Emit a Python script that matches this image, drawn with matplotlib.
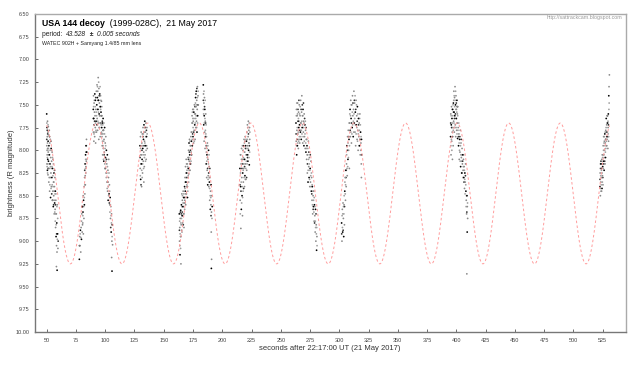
import matplotlib
matplotlib.use("Agg")
import matplotlib.pyplot as plt
import numpy as np

plt.rcParams['font.family'] = ['Liberation Sans', 'DejaVu Sans']

# ---------------- data ----------------
seg1 = [(50.0,7.60),(50.1,7.95),(50.2,8.15),(50.3,7.75),(50.4,8.05),(50.5,7.85),(50.6,8.22),(50.7,7.68),
        (50.8,7.98),(50.9,8.10),(51.0,7.80),(51.1,8.27),(51.2,7.90),(51.3,8.02),(51.4,7.74),(51.5,8.12),
        (51.6,7.83),(51.8,8.35),(51.9,7.95),(52.0,8.20),(52.2,7.78),(52.3,8.05),(52.5,8.45),(52.6,7.92),
        (52.8,8.15),(53.0,8.30),(53.1,7.88),(53.3,8.52),(53.4,8.08),(53.6,8.25),(53.8,7.98),(54.0,8.40),
        (54.2,8.12),(54.4,8.30),(54.6,8.02),(54.8,8.55),(55.0,8.20),(55.2,8.45),(55.4,8.10),(55.6,8.62),
        (55.8,8.35),(56.0,8.50),(56.2,8.25),(56.4,8.70),(56.6,8.40),(56.8,8.58),(57.0,8.30),(57.2,8.65),
        (57.4,8.45),(57.6,8.85),(57.8,8.55),(58.0,8.95),(58.2,8.70),(58.4,9.05),(58.6,8.80),(58.8,9.12),
        (59.0,8.60),(59.3,8.92),(59.6,9.08),(58.3,9.28),(58.9,9.32)]
seg1x = [(50.05,7.88),(50.15,7.70),(50.25,8.00),(50.35,8.18),(50.45,7.78),(50.55,8.08),(50.65,7.92),
         (50.75,8.25),(50.85,7.82),(50.95,8.00),(51.05,8.15),(51.15,7.72),(51.25,8.20),(51.45,7.98),
         (51.7,8.05),(52.1,8.30),(52.4,7.85),(52.7,8.38),(52.9,8.00),(53.2,8.18),(53.5,7.90),(53.7,8.42),
         (53.9,8.20),(54.1,8.00),(54.3,8.48),(54.5,8.18),(54.7,8.38),(54.9,8.08),(55.1,8.55),(55.3,8.28),
         (55.5,8.40),(55.7,8.15),(55.9,8.60),(56.1,8.35),(56.3,8.45),(56.5,8.55),(56.7,8.22),(56.9,8.68),
         (57.1,8.48),(57.3,8.78),(57.5,8.60),(57.7,8.70),(57.9,8.48),(58.1,8.82),(58.5,8.92),(58.7,8.62),
         (59.1,8.98),(59.4,8.75),(59.8,9.00)]
seg2a = [(77.9,9.20),(78.2,8.95),(78.5,9.05),(78.8,8.88),(79.1,9.12),(79.4,8.85),(79.7,8.98),(80.0,8.70),
         (80.3,8.90),(80.5,8.62),(80.6,8.82),(80.8,8.80),(81.0,8.68),(81.2,8.50),(81.3,8.92),(81.5,8.55),
         (81.8,8.75),(82.0,8.40),(82.2,8.60),(82.4,8.30),(82.6,8.48),(82.8,8.15),(82.9,8.28),(83.0,8.38),
         (83.2,8.05),(83.4,8.25),(83.5,8.18),(83.6,7.95),(83.8,8.12),(84.0,7.88),(84.2,8.02)]
seg2ax = [(78.0,9.05),(78.6,8.92),(79.2,8.96),(79.8,8.78),(80.2,8.62),(80.9,8.72),(81.6,8.62),(82.1,8.52),
          (82.5,8.22),(82.7,8.38),(83.1,8.20),(83.3,8.10),(83.7,8.02),(83.9,7.95),(84.1,8.10)]
seg2b = [(89.8,7.55),(89.9,7.80),(90.0,7.40),(90.2,7.65),(90.3,7.90),(90.5,7.48),(90.6,7.72),(90.8,7.58),
         (91.0,7.85),(91.1,7.38),(91.3,7.62),(91.5,7.75),(91.6,7.45),(91.8,7.92),(92.0,7.55),(92.2,7.68),
         (92.4,7.35),(92.5,7.80),(92.8,7.50),(93.0,7.28),(93.1,7.65),(93.3,7.42),(93.5,7.78),(93.6,7.35),
         (93.8,7.55),(94.0,7.20),(94.1,7.70),(94.3,7.45),(94.5,7.88),(94.6,7.32),(94.8,7.60),(95.0,7.48),
         (95.2,7.75),(95.3,7.38),(95.5,7.62),(95.7,7.85),(95.9,7.52),(96.0,7.40),(96.2,7.70),(96.4,7.58),
         (96.6,7.82),(96.8,7.46),(97.0,7.75),(97.2,7.62),(97.4,7.95),(97.6,7.70),(97.8,8.05),(98.0,7.82),
         (98.2,7.65),(98.4,7.98),(98.6,7.78),(98.8,8.12),(99.0,7.88),(99.3,8.02),(99.5,7.75),(99.7,8.20),
         (100.0,7.92),(100.2,8.08),(100.5,7.85),(100.7,8.25),(101.0,8.00),(101.3,8.15),(101.5,8.35),
         (101.8,8.05),(102.0,8.45),(102.3,8.22),(102.5,8.55),(102.8,8.30),(103.0,8.10),(103.3,8.48),
         (103.6,8.38),(103.9,8.60),(104.2,8.52),(104.5,8.75),(104.8,8.62),(105.1,8.90),(105.4,8.70),
         (105.7,9.00),(106.0,8.82),(106.3,9.04),(105.5,9.18),(105.8,9.33)]
seg2bx = [(89.85,7.65),(90.1,7.52),(90.4,7.82),(90.7,7.45),(90.9,7.68),(91.2,7.80),(91.4,7.52),(91.7,7.70),
          (91.9,7.42),(92.1,7.78),(92.3,7.58),(92.6,7.62),(92.9,7.72),(93.2,7.55),(93.4,7.30),(93.7,7.68),
          (93.9,7.45),(94.2,7.58),(94.4,7.25),(94.7,7.75),(94.9,7.40),(95.1,7.62),(95.4,7.52),(95.6,7.30),
          (95.8,7.70),(96.1,7.55),(96.3,7.45),(96.5,7.72),(96.7,7.62),(96.9,7.80),(97.1,7.52),(97.3,7.85),
          (97.5,7.68),(97.7,7.90),(97.9,7.72),(98.1,7.95),(98.3,7.78),(98.5,8.10),(98.7,7.90),(98.9,7.70),
          (99.1,8.05),(99.4,7.82),(99.6,8.15),(99.9,7.98),(100.1,8.20),(100.4,7.95),(100.6,8.12),(100.9,8.30),
          (101.1,8.10),(101.4,8.25),(101.7,8.42),(101.9,8.18),(102.2,8.35),(102.6,8.40),(102.9,8.50),
          (103.2,8.25),(103.5,8.58),(103.8,8.45),(104.0,8.68),(104.4,8.60),(104.7,8.85),(105.0,8.72),
          (105.3,8.80),(105.9,8.95)]
seg3 = [(129.7,7.95),(129.9,8.20),(130.1,7.85),(130.3,8.32),(130.5,8.05),(130.7,7.80),(130.9,8.15),
        (131.1,8.40),(131.3,7.92),(131.5,8.10),(131.7,7.82),(131.9,8.25),(132.1,7.98),(132.3,7.75),
        (132.5,8.12),(132.7,7.88),(132.9,8.02),(133.0,8.35),(133.1,7.72),(133.4,8.18),(133.6,7.90),
        (133.8,7.68),(134.0,8.05),(134.3,7.80),(134.5,7.95),(134.8,7.70),(135.0,8.10),(135.3,7.85),
        (135.6,7.75),(135.9,7.98)]
seg3x = [(129.8,8.08),(130.0,8.28),(130.2,7.98),(130.4,8.15),(130.6,8.38),(130.8,7.95),(131.0,8.05),
         (131.2,8.22),(131.4,8.00),(131.6,8.30),(131.8,7.95),(132.0,8.15),(132.2,7.85),(132.4,8.05),
         (132.6,7.82),(132.8,8.20),(133.2,7.95),(133.5,8.08),(133.7,7.80),(133.9,7.92),(134.1,7.75),
         (134.4,8.12),(134.6,7.85),(134.9,8.00),(135.2,7.78),(135.4,7.95),(135.8,7.82)]
seg4a = [(163.3,8.70),(163.5,9.00),(163.7,8.85),(163.9,9.15),(164.1,8.75),(164.3,8.95),(164.5,8.66),
         (164.7,9.25),(164.9,8.82),(165.1,8.60),(165.3,8.88),(165.5,8.48),(165.7,8.72),(165.9,8.55),
         (166.1,8.80),(166.3,8.62),(166.6,8.45),(166.8,8.70),(167.0,8.52),(167.3,8.85),(167.5,8.58),
         (167.8,8.40),(168.0,8.55),(168.2,8.30),(168.4,8.45),(168.6,8.18),(168.8,8.60),(169.0,8.35),
         (169.2,8.10),(169.4,8.48),(169.6,8.25),(169.8,8.40),(170.0,8.15),(170.3,8.52),(170.5,8.30),
         (170.8,8.08),(171.0,8.20),(171.2,8.00),(171.4,8.26),(171.6,7.92),(171.8,8.12),(172.0,7.88),
         (172.2,8.05),(172.5,8.22),(172.7,7.95),(172.9,8.15),(173.2,7.85),(173.4,8.02),(173.7,7.90),
         (174.0,7.80),(174.2,7.62),(174.4,7.95),(174.6,7.70),(174.8,7.55),(175.0,7.85),(175.2,7.68),
         (175.5,7.92),(175.7,7.58),(176.0,7.78),(176.2,7.50),(176.5,7.72),(176.8,7.88),(177.0,7.60),
         (177.2,7.42),(177.4,7.75),(177.6,7.52),(177.8,7.35),(178.0,7.68),(178.2,7.45),(178.4,7.80),
         (178.6,7.55),(178.8,7.30),(179.0,7.62),(179.3,7.40),(179.5,7.50)]
seg4ax = [(163.4,8.88),(163.6,8.78),(163.8,9.05),(164.0,8.92),(164.2,8.68),(164.4,9.08),(164.6,8.80),
          (164.8,8.95),(165.0,8.70),(165.2,8.75),(165.4,8.62),(165.6,8.90),(165.8,8.68),(166.0,8.50),
          (166.2,8.72),(166.5,8.58),(166.7,8.82),(166.9,8.62),(167.2,8.48),(167.4,8.70),(167.7,8.52),
          (167.9,8.65),(168.1,8.42),(168.3,8.58),(168.5,8.35),(168.7,8.48),(168.9,8.25),(169.1,8.52),
          (169.3,8.30),(169.5,8.15),(169.7,8.38),(169.9,8.22),(170.2,8.40),(170.4,8.18),(170.6,8.45),
          (170.9,8.28),(171.1,8.10),(171.3,8.35),(171.5,8.08),(171.7,8.22),(171.9,8.02),(172.1,8.15),
          (172.4,7.90),(172.6,8.10),(172.8,8.00),(173.0,7.95),(173.3,8.12),(173.5,7.80),(173.8,8.05),
          (174.1,7.70),(174.3,7.88),(174.5,7.58),(174.7,7.82),(174.9,7.65),(175.1,7.75),(175.4,7.55),
          (175.6,7.80),(175.9,7.65),(176.1,7.90),(176.4,7.60),(176.7,7.52),(176.9,7.70),(177.1,7.48),
          (177.3,7.65),(177.5,7.38),(177.7,7.62),(177.9,7.50),(178.1,7.75),(178.3,7.32),(178.5,7.62),
          (178.7,7.42),(178.9,7.70),(179.2,7.50),(179.4,7.35)]
seg4b = [(183.8,7.28),(183.9,7.55),(184.0,7.38),(184.2,7.72),(184.3,7.48),(184.5,7.90),(184.6,7.62),
         (184.8,7.42),(185.0,7.80),(185.1,7.55),(185.3,7.98),(185.5,7.68),(185.7,7.85),(185.9,7.60),
         (186.1,7.95),(186.3,8.15),(186.5,7.85),(186.7,8.30),(186.9,8.05),(187.1,8.22),(187.3,7.92),
         (187.6,8.38),(187.8,8.10),(188.0,8.28),(188.3,8.00),(188.5,8.40),(188.8,8.18),(189.0,8.35),
         (189.3,8.55),(189.5,8.30),(189.8,8.65),(190.0,8.45),(190.3,8.60),(190.5,8.38),(190.8,8.68),
         (191.0,8.50),(191.4,8.62),(190.6,8.90),(190.9,9.20),(190.7,9.30)]
seg4bx = [(183.85,7.45),(184.1,7.60),(184.4,7.35),(184.7,7.70),(184.9,7.52),(185.2,7.65),(185.4,7.45),
          (185.6,7.78),(185.8,7.70),(186.0,7.82),(186.2,7.72),(186.4,8.02),(186.6,7.95),(186.8,8.12),
          (187.0,7.98),(187.2,8.08),(187.5,8.20),(187.7,7.95),(187.9,8.32),(188.2,8.15),(188.4,8.25),
          (188.7,8.05),(188.9,8.30),(189.2,8.42),(189.4,8.20),(189.7,8.50),(189.9,8.38),(190.2,8.52),
          (190.4,8.72),(191.2,8.75)]
seg5 = [(215.1,8.20),(215.3,8.55),(215.5,8.05),(215.7,8.40),(215.9,8.86),(216.1,8.15),(216.3,8.65),
        (216.5,7.98),(216.7,8.30),(216.9,8.50),(217.1,8.10),(217.3,8.72),(217.5,8.25),(217.7,8.00),
        (218.0,8.35),(218.2,7.95),(218.4,8.20),(218.6,7.88),(218.8,8.10),(219.0,8.40),(219.2,8.02),
        (219.4,8.28),(219.6,7.85),(219.8,8.15),(220.0,7.95),(220.2,8.32),(220.4,8.05),(220.7,7.90),
        (220.9,8.22),(221.1,7.80),(221.3,8.05),(221.5,7.72),(221.7,7.95),(221.9,8.12),(222.1,7.85),
        (222.3,7.68),(222.5,8.00),(222.7,7.78),(222.9,7.92),(223.1,8.16),(223.3,7.75),(223.5,7.88)]
seg5x = [(215.2,8.38),(215.4,8.70),(215.6,8.25),(215.8,8.05),(216.0,8.45),(216.2,8.35),(216.4,8.10),
         (216.6,8.58),(216.8,8.20),(217.0,8.40),(217.2,7.95),(217.4,8.52),(217.6,8.15),(217.8,8.45),
         (217.9,8.22),(218.1,8.08),(218.3,8.42),(218.5,8.15),(218.7,8.30),(218.9,7.92),(219.1,8.18),
         (219.3,7.90),(219.5,8.10),(219.7,8.32),(219.9,7.98),(220.1,8.20),(220.3,7.88),(220.6,8.12),
         (220.8,8.30),(221.0,7.98),(221.2,8.15),(221.4,7.88),(221.6,8.08),(221.8,7.75),(222.0,7.98),
         (222.2,8.05),(222.4,7.82),(222.6,7.92),(222.8,8.08),(223.0,7.70),(223.2,7.95),(223.4,8.02),
         (223.6,7.80)]
seg6 = [(263.0,7.70),(263.2,7.90),(263.4,7.55),(263.6,8.05),(263.8,7.78),(264.0,7.62),(264.2,7.95),
        (264.4,7.48),(264.6,7.82),(264.8,7.68),(265.0,7.98),(265.2,7.58),(265.4,7.75),(265.6,7.88),
        (265.8,7.50),(266.0,7.72),(266.2,7.92),(266.5,7.62),(266.8,7.80),(267.0,7.45),(267.3,7.70),
        (267.5,7.88),(267.8,7.58),(268.0,7.40),(268.3,7.75),(268.5,7.62),(268.8,7.92),(269.0,7.55),
        (269.3,7.80),(269.5,7.68),(269.8,7.95),(270.0,7.60),(270.3,7.85),(270.6,7.72),(270.9,7.98),
        (271.2,7.78),(271.5,8.02),(271.8,7.88),(272.1,8.10),(272.4,7.95),(272.7,8.25),(273.0,8.05),
        (273.3,8.35),(273.6,7.90),(273.9,8.18),(274.2,8.30),(274.5,8.08),(274.8,8.40),(275.1,8.20),
        (275.4,8.35),(275.8,8.12),(276.1,8.45),(276.4,8.30),(276.7,8.55),(277.0,8.40),(277.3,8.70),
        (277.6,8.50),(277.9,8.62),(278.2,8.45),(278.5,8.78),(278.8,8.60),(279.1,8.72),(279.4,8.90),
        (279.7,8.65),(280.0,9.00),(280.3,8.82),(280.6,9.10),(280.9,8.95)]
seg6x = [(263.1,7.82),(263.3,7.62),(263.5,7.95),(263.7,7.48),(263.9,7.88),(264.1,7.75),(264.3,7.60),
         (264.5,7.92),(264.7,7.55),(264.9,7.80),(265.1,7.65),(265.3,7.90),(265.5,7.45),(265.7,7.68),
         (265.9,7.85),(266.1,7.60),(266.3,7.78),(266.6,7.52),(266.9,7.70),(267.1,7.85),(267.4,7.55),
         (267.6,7.78),(267.9,7.68),(268.1,7.82),(268.4,7.50),(268.6,7.72),(268.9,7.62),(269.1,7.85),
         (269.4,7.48),(269.6,7.75),(269.9,7.70),(270.1,7.90),(270.4,7.65),(270.7,7.82),(271.0,7.68),
         (271.3,7.92),(271.6,7.75),(271.9,7.98),(272.2,7.88),(272.5,8.05),(272.8,8.15),(273.1,7.98),
         (273.4,8.22),(273.7,8.10),(274.0,8.02),(274.3,8.15),(274.6,8.32),(274.9,8.22),(275.2,8.05),
         (275.6,8.28),(275.9,8.40),(276.2,8.25),(276.5,8.48),(276.8,8.38),(277.1,8.60),(277.4,8.45),
         (277.7,8.65),(278.0,8.55),(278.3,8.68),(278.6,8.52),(278.9,8.80),(279.2,8.62),(279.5,8.78),
         (279.8,8.85),(280.1,8.70),(280.4,8.92),(280.7,8.85),(281.0,9.05)]
seg7 = [(302.0,8.80),(302.3,9.00),(302.6,8.65),(302.9,8.90),(303.2,8.58),(303.5,8.75),(303.8,8.95),
        (304.1,8.60),(304.4,8.82),(304.7,8.45),(305.0,8.30),(305.3,8.55),(305.6,8.22),(305.9,8.40),
        (306.2,8.15),(306.5,7.95),(306.8,8.28),(307.1,7.85),(307.4,8.10),(307.7,7.78),(308.0,8.00),
        (308.3,7.88),(308.6,8.20),(308.9,7.70),(309.2,7.55),(309.5,7.85),(309.8,7.45),(310.1,7.65),
        (310.4,7.92),(310.7,7.50),(311.0,7.75),(311.3,7.40),(311.6,7.62),(311.9,7.85),(312.2,7.55),
        (312.5,7.35),(312.8,7.70),(313.1,7.48),(313.4,7.80),(313.7,7.58),(314.0,7.95),(314.3,7.45),
        (314.6,7.72),(314.9,7.62),(315.2,7.88),(315.5,7.52),(315.8,7.78),(316.1,8.00),(316.4,7.65),
        (316.7,7.85),(317.0,7.70),(317.3,7.95),(317.6,7.60),(317.9,8.05),(318.2,7.80),(318.5,7.92),
        (318.8,8.15),(319.0,7.88),(318.9,8.30)]
seg7x = [(302.1,8.92),(302.4,8.72),(302.7,8.85),(303.0,8.70),(303.3,8.88),(303.6,8.62),(303.9,8.70),
         (304.2,8.50),(304.5,8.62),(304.8,8.35),(305.1,8.48),(305.4,8.38),(305.7,8.30),(306.0,8.22),
         (306.3,8.05),(306.6,8.20),(306.9,8.00),(307.2,8.18),(307.5,7.92),(307.8,8.08),(308.1,7.85),
         (308.4,7.70),(308.7,7.95),(309.0,7.60),(309.3,7.78),(309.6,7.62),(309.9,7.80),(310.2,7.50),
         (310.5,7.70),(310.8,7.82),(311.1,7.58),(311.4,7.72),(311.7,7.48),(312.0,7.68),(312.3,7.80),
         (312.6,7.60),(312.9,7.45),(313.2,7.65),(313.5,7.40),(313.8,7.72),(314.1,7.55),(314.4,7.82),
         (314.7,7.50),(315.0,7.75),(315.3,7.68),(315.6,7.90),(315.9,7.60),(316.2,7.82),(316.5,7.72),
         (316.8,7.95),(317.1,7.78),(317.4,7.65),(317.7,7.88),(318.0,7.72),(318.3,8.00),(318.6,7.85),
         (319.1,8.05)]
seg8 = [(395.1,7.85),(395.3,7.60),(395.5,8.05),(395.7,7.72),(395.9,7.52),(396.1,7.90),(396.3,7.65),
        (396.5,7.80),(396.7,8.10),(396.9,7.55),(397.1,7.75),(397.3,7.95),(397.5,7.48),(397.7,7.68),
        (397.9,7.35),(398.1,7.58),(398.3,7.80),(398.5,7.42),(398.7,7.62),(398.9,7.30),(399.1,7.72),
        (399.3,7.50),(399.5,7.85),(399.7,7.40),(399.9,7.65),(400.1,7.55),(400.3,7.78),(400.5,7.45),
        (400.7,7.70),(400.9,7.60),(401.1,7.87),(401.3,7.52),(401.6,7.75),(401.9,7.95),(402.2,7.82),
        (402.5,8.10),(402.8,7.88),(403.1,8.02),(403.4,7.78),(403.7,8.18),(404.0,7.92),(404.3,8.08),
        (404.6,8.25),(404.9,7.98),(405.2,8.15),(405.5,8.05),(405.8,8.22),(406.1,8.10),(406.4,8.30),
        (406.7,8.18),(407.0,8.42),(407.3,8.25),(407.6,8.35),(407.9,8.15),(408.2,8.45),(408.5,8.55),
        (408.8,8.70),(409.1,8.50),(409.4,8.62),(409.7,8.75),(409.3,8.90),(409.0,9.36)]
seg8x = [(395.2,7.70),(395.4,7.95),(395.6,7.62),(395.8,7.88),(396.0,7.75),(396.2,8.00),(396.4,7.55),
         (396.6,7.70),(396.8,7.85),(397.0,7.62),(397.2,7.50),(397.4,7.78),(397.6,7.58),(397.8,7.45),
         (398.0,7.70),(398.2,7.40),(398.4,7.65),(398.6,7.52),(398.8,7.75),(399.0,7.45),(399.2,7.60),
         (399.4,7.35),(399.6,7.55),(399.8,7.75),(400.0,7.48),(400.2,7.65),(400.4,7.58),(400.6,7.82),
         (400.8,7.52),(401.0,7.70),(401.2,7.62),(401.4,7.78),(401.8,7.85),(402.1,7.70),(402.4,7.92),
         (402.7,8.00),(403.0,7.85),(403.3,8.12),(403.6,7.95),(403.9,8.05),(404.2,7.88),(404.5,8.12),
         (404.8,8.05),(405.1,8.25),(405.4,8.12),(405.7,8.30),(406.0,8.18),(406.3,8.05),(406.6,8.35),
         (406.9,8.22),(407.2,8.32),(407.5,8.48),(407.8,8.28),(408.1,8.38),(408.4,8.62),(408.7,8.50),
         (409.0,8.68),(409.6,8.58)]
seg9 = [(522.7,8.40),(522.9,8.25),(523.1,8.50),(523.3,8.15),(523.5,8.35),(523.7,8.45),(523.9,8.20),
        (524.1,8.30),(524.3,8.10),(524.5,8.42),(524.7,8.05),(524.9,8.28),(525.1,8.18),(525.3,8.38),
        (525.5,7.95),(525.7,8.12),(525.9,7.85),(526.1,8.05),(526.3,8.22),(526.5,7.90),(526.7,8.00),
        (526.9,7.82),(527.1,8.15),(527.3,7.92),(527.5,8.08),(527.7,7.78),(527.9,7.88),(528.1,7.65),
        (528.3,7.95),(528.5,7.72),(528.7,7.85),(528.9,7.62),(529.1,7.80),(529.3,7.70),(529.5,7.98),
        (529.7,7.75),(529.9,7.60),(530.1,7.90),(530.5,7.30),(530.3,7.40),(530.8,7.17)]
seg9x = [(522.8,8.32),(523.0,8.20),(523.2,8.42),(523.4,8.28),(523.6,8.12),(523.8,8.38),(524.0,8.22),
         (524.2,8.45),(524.4,8.15),(524.6,8.25),(524.8,8.35),(525.0,8.08),(525.2,8.30),(525.4,8.05),
         (525.6,8.20),(525.8,8.00),(526.0,8.15),(526.2,7.92),(526.4,8.08),(526.6,7.85),(526.8,8.12),
         (527.0,7.95),(527.2,7.80),(527.4,8.02),(527.6,7.88),(527.8,7.98),(528.0,7.75),(528.2,7.90),
         (528.4,7.80),(528.6,7.95),(528.8,7.70),(529.0,7.88),(529.2,7.62),(529.4,7.85),(529.6,7.68),
         (529.8,7.82),(530.0,7.72),(530.2,7.85),(530.4,7.55),(530.6,7.48)]

# model curve drawn as the red dashed line (parameters)
model_period = 44.06       # spacing of the drawn minima, in axis seconds
model_trough_t = 246.5     # time of one brightness minimum
model_bright = 7.70        # magnitude at maximum
model_faint = 9.25         # magnitude at minimum
model_range = (50.0, 531.0)

x_ticks = [50, 75, 100, 125, 150, 175, 200, 225, 250, 275, 300, 325, 350, 375, 400, 425, 450, 475, 500, 525]
y_ticks = [6.50, 6.75, 7.00, 7.25, 7.50, 7.75, 8.00, 8.25, 8.50, 8.75, 9.00, 9.25, 9.50, 9.75, 10.00]

title_bold = "USA 144 decoy"
title_rest = "  (1999-028C),  21 May 2017"
period_val = "43.528"
period_err = "0.005 seconds"
camera = "WATEC 902H + Samyang 1.4/85 mm lens"
url = "http://sattrackcam.blogspot.com"
xlabel = "seconds after 22:17:00 UT (21 May 2017)"
ylabel = "brightness (R magnitude)"

# ---------------- figure ----------------
W, H = 640, 366
fig = plt.figure(figsize=(W / 100, H / 100), dpi=100)
fig.patch.set_facecolor('white')
L, R, T, B = 35, 626, 14, 332
ax = fig.add_axes([L / W, 1 - B / H, (R - L) / W, (B - T) / H])

main_segs = [seg1, seg2a, seg2b, seg3, seg4a, seg4b, seg5, seg6, seg7, seg8, seg9]
extra_segs = [seg1x, seg2ax, seg2bx, seg3x, seg4ax, seg4bx, seg5x, seg6x, seg7x, seg8x, seg9x]
for seg in extra_segs:
    arr = np.array(seg)
    cols = ['#333333' if i % 4 == 0 else '#a0a0a0' for i in range(len(arr))]
    ax.scatter(arr[:, 0], arr[:, 1], s=1.6, c=cols, linewidths=0, zorder=2)
for seg in main_segs:
    arr = np.array(seg)
    cols = ['black' if i % 3 == 0 else '#8a8a8a' for i in range(len(arr))]
    ax.scatter(arr[:, 0], arr[:, 1], s=1.6, c=cols, linewidths=0, zorder=2)

tc = np.linspace(model_range[0], model_range[1], 3000)
mid = (model_bright + model_faint) / 2
amp = (model_faint - model_bright) / 2
mc = mid + amp * np.cos(2 * np.pi * (tc - model_trough_t) / model_period)
ax.plot(tc, mc, color='#ff9c9c', lw=0.7, dashes=(2.6, 2.4), zorder=3)

ax.set_xlim(40, 545)
ax.set_ylim(10.0, 6.5)
ax.set_xticks(x_ticks)
ax.set_xticklabels([str(v) for v in x_ticks])
ax.set_yticks(y_ticks)
ax.set_yticklabels(["%.2f" % v for v in y_ticks])
ax.tick_params(direction='in', length=2.5, width=0.6, color='#555555',
               labelsize=4, labelcolor='#444444', pad=4)
for side in ['left', 'bottom']:
    ax.spines[side].set_color('#777777')
    ax.spines[side].set_linewidth(1.0)
for side in ['top', 'right']:
    ax.spines[side].set_color('#aaaaaa')
    ax.spines[side].set_linewidth(1.0)

fig.text(12 / W, 1 - 173 / H, ylabel, rotation=90, fontsize=5.5, color='#333333',
         ha='center', va='center')
fig.text(330 / W, 1 - 349 / H, xlabel, fontsize=5.5, color='#333333', ha='center', va='center')

fig.canvas.draw()
renderer = fig.canvas.get_renderer()


def chain(x_px, y_px, parts):
    x = x_px
    for s, kw in parts:
        t = fig.text(x / W, 1 - y_px / H, s, va='center', ha='left', **kw)
        bb = t.get_window_extent(renderer=renderer)
        x += bb.width


chain(42, 23, [(title_bold, dict(fontsize=6.3, fontweight='bold', color='black')),
               (title_rest, dict(fontsize=6.3, color='black'))])
chain(42, 34, [("period:  ", dict(fontsize=4.8, color='#222222')),
               (period_val, dict(fontsize=4.8, style='italic', color='#222222')),
               ("  \u00b1  ", dict(fontsize=4.8, fontweight='bold', color='#222222')),
               (period_err, dict(fontsize=4.8, style='italic', color='#222222'))])
fig.text(42 / W, 1 - 43 / H, camera, fontsize=3.8, color='#222222', va='center')
fig.text(622 / W, 1 - 18 / H, url, fontsize=3.8, color='#999999', va='center', ha='right')

fig.savefig('out.png', dpi=100, facecolor='white')
